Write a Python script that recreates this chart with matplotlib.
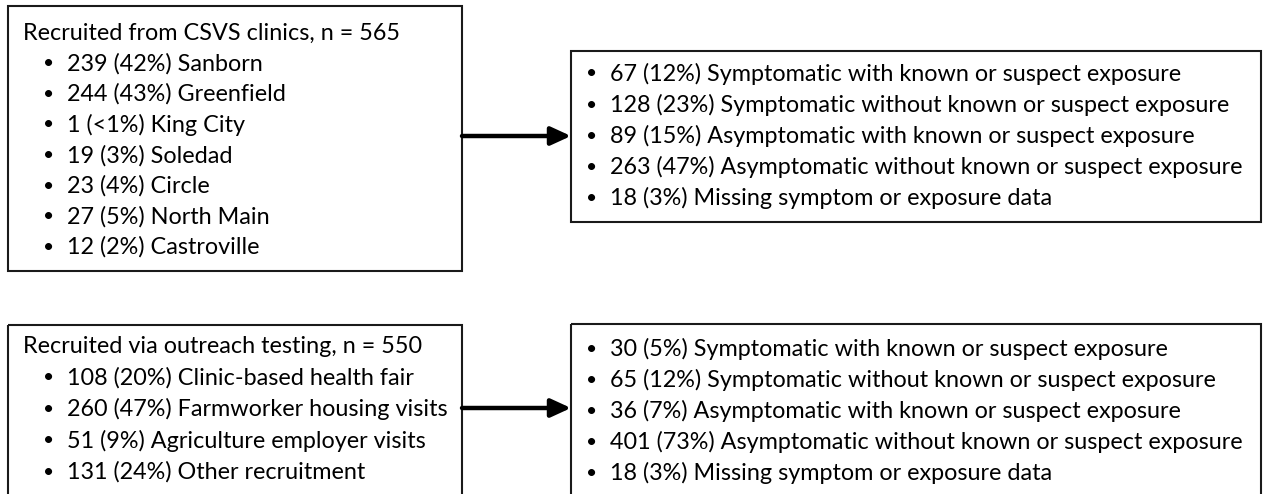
import matplotlib.pyplot as plt
from matplotlib.patches import Rectangle

plt.rcParams['font.family'] = ['Lato', 'DejaVu Sans']

# clinic recruitment
clinic_title = "Recruited from CSVS clinics, n = 565"
clinic_sites = ["Sanborn", "Greenfield", "King City", "Soledad", "Circle", "North Main", "Castroville"]
clinic_counts = [239, 244, 1, 19, 23, 27, 12]
clinic_pcts = ["42%", "43%", "<1%", "3%", "4%", "5%", "2%"]

# outreach recruitment
outreach_title = "Recruited via outreach testing, n = 550"
outreach_sites = ["Clinic-based health fair", "Farmworker housing visits",
                  "Agriculture employer visits", "Other recruitment"]
outreach_counts = [108, 260, 51, 131]
outreach_pcts = ["20%", "47%", "9%", "24%"]

# symptom / exposure categories
categories = ["Symptomatic with known or suspect exposure",
              "Symptomatic without known or suspect exposure",
              "Asymptomatic with known or suspect exposure",
              "Asymptomatic without known or suspect exposure",
              "Missing symptom or exposure data"]
clinic_cat_counts = [67, 128, 89, 263, 18]
clinic_cat_pcts = ["12%", "23%", "15%", "47%", "3%"]
outreach_cat_counts = [30, 65, 36, 401, 18]
outreach_cat_pcts = ["5%", "12%", "7%", "73%", "3%"]

W, H = 1267, 494
FS = 16.8


def draw_box(ax, x0, y0, x1, y1):
    ax.add_patch(Rectangle((x0, y0), x1 - x0, y1 - y0, fill=False,
                           edgecolor="#1a1a1a", linewidth=1.5))


def draw_lines(ax, x_bullet, y_first, step, counts, pcts, labels, title=None, x_title=None):
    y = y_first
    if title is not None:
        ax.text(x_title, y, title, fontsize=FS, va="center", ha="left")
        y += step
    for c, p, lab in zip(counts, pcts, labels):
        ax.text(x_bullet, y, "\u2022", fontsize=FS - 3, va="center", ha="center")
        ax.text(x_bullet + 18, y, f"{c} ({p}) {lab}", fontsize=FS, va="center", ha="left")
        y += step


def arrow(ax, x0, x1, y):
    ax.annotate("", xy=(x1, y), xytext=(x0, y),
                arrowprops=dict(arrowstyle="-|>,head_length=1.2,head_width=0.55",
                                lw=3.2, color="black", shrinkA=0, shrinkB=0))


fig = plt.figure(figsize=(W / 100, H / 100), dpi=100)
ax = fig.add_axes([0, 0, 1, 1])
ax.set_xlim(0, W)
ax.set_ylim(H, 0)
ax.axis("off")

# top row
draw_box(ax, 8, 6, 462, 271)
draw_lines(ax, 49, 33, 30.6, clinic_counts, clinic_pcts, clinic_sites, clinic_title, 23)
draw_box(ax, 571, 51, 1261, 222)
draw_lines(ax, 592, 74, 31, clinic_cat_counts, clinic_cat_pcts, categories)
arrow(ax, 462, 571, 136)

# bottom row
draw_box(ax, 8, 325, 462, 505)
draw_lines(ax, 49, 346, 31.5, outreach_counts, outreach_pcts, outreach_sites, outreach_title, 23)
draw_box(ax, 571, 324, 1261, 505)
draw_lines(ax, 592, 349, 31, outreach_cat_counts, outreach_cat_pcts, categories)
arrow(ax, 462, 571, 408)

fig.savefig("out.png", dpi=100)
